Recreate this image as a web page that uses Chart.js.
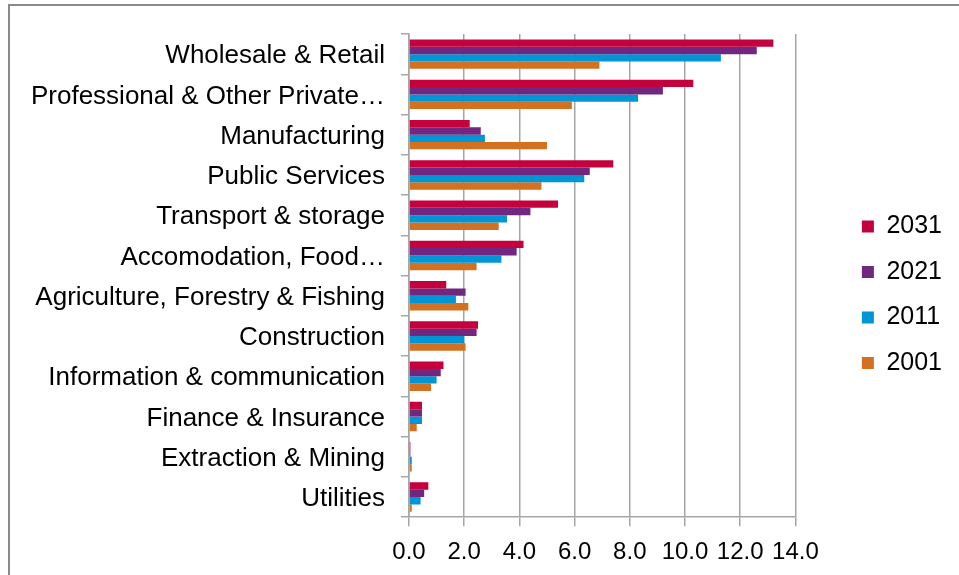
<!DOCTYPE html>
<html>
<head>
<meta charset="utf-8">
<script src="https://cdn.jsdelivr.net/npm/chart.js@4/dist/chart.umd.min.js"></script>
<style>
  html, body { margin: 0; padding: 0; background: #fff; }
  #wrap { position: relative; width: 959px; height: 575px; overflow: hidden; }
  #frame {
    position: absolute; left: 8px; top: 4px; right: -10px; bottom: -10px;
    border-top: 2px solid #8a8a8a; border-left: 2px solid #8a8a8a;
  }
  #jobs { position: absolute; left: 0; top: 0; }
</style>
</head>
<body>
<div id="wrap">
  <div id="frame"></div>
  <canvas id="jobs" width="959" height="575"></canvas>
</div>
<script>
// employment by sector, thousands
const sectors = [
  'Wholesale & Retail',
  'Professional & Other Private\u2026',
  'Manufacturing',
  'Public Services',
  'Transport & storage',
  'Accomodation, Food\u2026',
  'Agriculture, Forestry & Fishing',
  'Construction',
  'Information & communication',
  'Finance & Insurance',
  'Extraction & Mining',
  'Utilities'
];
const years = ['2031', '2021', '2011', '2001'];

const y2031 = [13.2, 10.3, 2.2, 7.4, 5.4, 4.15, 1.35, 2.5, 1.25, 0.47, 0.05, 0.7];
const y2021 = [12.6, 9.2, 2.6, 6.55, 4.4, 3.9, 2.05, 2.45, 1.15, 0.47, 0.05, 0.55];
const y2011 = [11.3, 8.3, 2.75, 6.35, 3.55, 3.35, 1.7, 2.0, 1.0, 0.47, 0.1, 0.42];
const y2001 = [6.9, 5.9, 5.0, 4.8, 3.25, 2.45, 2.15, 2.05, 0.8, 0.28, 0.1, 0.1];

const colors = ['#c4003d', '#71267f', '#0096d6', '#d37120'];
const series = [y2031, y2021, y2011, y2001];

Chart.defaults.font.family = "'Liberation Sans', Arial, sans-serif";
Chart.defaults.color = '#000';

const axisGrey = '#a6a6a6';

new Chart(document.getElementById('jobs').getContext('2d'), {
  type: 'bar',
  data: {
    labels: sectors,
    datasets: years.map((y, i) => ({
      label: y,
      data: series[i],
      backgroundColor: colors[i],
      borderWidth: 0,
      categoryPercentage: 0.73,
      barPercentage: 1.0
    }))
  },
  options: {
    indexAxis: 'y',
    responsive: false,
    animation: false,
    layout: { padding: { left: 0, top: 34, right: 7, bottom: 0 } },
    plugins: {
      tooltip: { enabled: false },
      legend: {
        position: 'right',
        fullSize: false,
        // empty title only pushes the key down a little
        title: { display: true, text: '', padding: 0, font: { size: 32 } },
        labels: {
          boxWidth: 12,
          boxHeight: 12,
          padding: 20.5,
          font: { size: 25 }
        }
      }
    },
    scales: {
      x: {
        min: 0,
        max: 14,
        ticks: {
          stepSize: 2,
          autoSkip: false,
          maxRotation: 0,
          padding: 12,
          font: { size: 24 },
          callback: v => v.toFixed(1)
        },
        grid: { color: axisGrey, lineWidth: 1.5, tickLength: 9 },
        border: { color: axisGrey, width: 1.5 },
        afterFit(s) { s.height -= 4; }
      },
      y: {
        ticks: { autoSkip: false, padding: 16, labelOffset: 2, font: { size: 26 } },
        grid: { drawOnChartArea: false, offset: true, color: axisGrey, lineWidth: 1.5, tickLength: 8 },
        border: { color: axisGrey, width: 1.5 },
        afterFit(s) { s.width = 409; }
      },
      // empty box keeping the legend clear of the plot
      gap: {
        type: 'linear',
        position: 'right',
        grid: { display: false },
        border: { display: false },
        ticks: { display: false },
        afterFit(s) { s.width = 46; }
      }
    }
  }
});
</script>
</body>
</html>
